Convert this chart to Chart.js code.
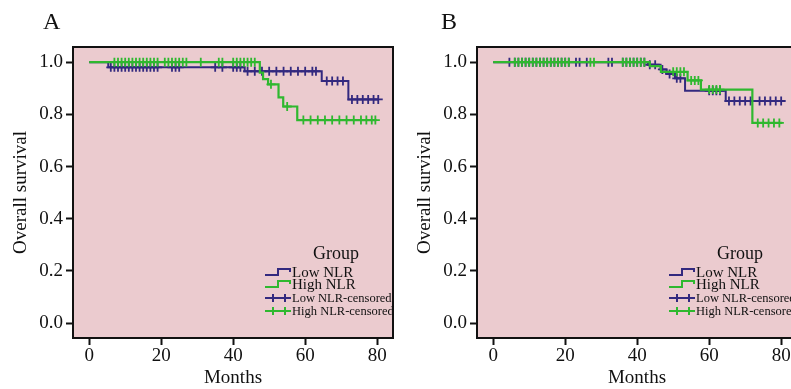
<!DOCTYPE html>
<html>
<head>
<meta charset="utf-8">
<script src="https://cdn.jsdelivr.net/npm/chart.js@4.4.1/dist/chart.umd.min.js"></script>
<style>
html, body { margin: 0; padding: 0; background: #fff; width: 791px; height: 389px; overflow: hidden; }
.panel { position: absolute; top: 0; width: 400px; height: 389px; }
</style>
</head>
<body>
<div class="panel" style="left:0px"><canvas id="chartA" width="400" height="389"></canvas></div>
<div class="panel" style="left:404px"><canvas id="chartB" width="400" height="389"></canvas></div>
<script>
// axis ticks and legend labels
var monthTicks = [0, 20, 40, 60, 80];
var survivalTicks = [0.0, 0.2, 0.4, 0.6, 0.8, 1.0];
var groupLabels = ["Low NLR", "High NLR", "Low NLR-censored", "High NLR-censored"];

// panel A - Kaplan-Meier steps (month of event, survival after it)
var lowA_months = [0, 5.3, 43.2, 64.6, 72, 80.5];
var lowA_surv = [1.0, 0.98, 0.965, 0.928, 0.857, 0.857];
var highA_months = [0, 47.4, 48.3, 49.7, 52.6, 53.9, 57.8, 79.8];
var highA_surv = [1.0, 0.96, 0.935, 0.915, 0.865, 0.83, 0.778, 0.778];
// censored times
var lowA_censored = [6, 7, 8, 9, 10, 11, 12, 13, 14, 15, 16, 17, 18, 19, 23, 24, 25, 35, 37, 40, 41, 42,
  44, 46, 48, 50, 52, 54, 56, 58, 60, 62, 63, 66, 67.5, 69, 70.5, 73, 74.5, 76, 77.5, 79, 80.3];
var highA_censored = [7, 8, 9, 10, 11, 12, 13, 14, 15, 16, 17, 18, 19, 21, 22, 23, 24, 25, 26, 27, 31,
  36, 37, 40, 41, 42, 43, 44, 45, 46, 50.5, 55, 59.5, 61.5, 63.5, 65.5, 67.5, 69.5, 71.5, 73.5, 75.5, 77, 78.5, 79.5];

// panel B
var lowB_months = [0, 43, 46.5, 48.2, 50.5, 53.3, 64.6, 80.8];
var lowB_surv = [1.0, 0.99, 0.972, 0.955, 0.938, 0.89, 0.851, 0.851];
var highB_months = [0, 43.5, 46.6, 54, 57.7, 72, 80.3];
var highB_surv = [1.0, 0.985, 0.963, 0.93, 0.895, 0.767, 0.767];
var lowB_censored = [4.5, 6, 7, 8, 9, 10, 11, 12, 13, 14, 15, 16, 17, 18, 19, 20, 21, 23, 24, 26, 32, 33,
  36, 37, 38, 39, 40, 41, 42, 43.5, 45, 47, 49, 51, 52, 60, 61, 62, 63, 65.5, 67, 68.5, 70, 71.5, 74, 75.5, 77, 78.5, 80];
var highB_censored = [6, 7, 8, 9, 10, 11, 12, 13, 14, 15, 16, 17, 18, 19, 20, 21, 27, 28, 36, 37, 38, 39,
  40, 41, 42, 50, 51, 52, 53, 55, 56, 57, 60, 61, 62, 63, 73.5, 75, 76.5, 78, 79.5];

var navy = "#33297f";
var green = "#2fb82f";
var plotPink = "#ebcbcf";
var serif = "'Liberation Serif', 'Times New Roman', serif";

function toPoints(months, surv) {
  return months.map(function (m, i) { return { x: m, y: surv[i] }; });
}
// censor mark sits on the curve at that month
function onCurve(times, months, surv) {
  return times.map(function (t) {
    var s = surv[0];
    for (var i = 0; i < months.length; i++) { if (months[i] <= t) s = surv[i]; }
    return { x: t, y: s };
  });
}

var kmPlugin = {
  id: "kmDecor",
  beforeDraw: function (chart) {
    var a = chart.chartArea, ctx = chart.ctx;
    ctx.save();
    ctx.fillStyle = plotPink;
    ctx.fillRect(a.left, a.top, a.right - a.left, a.bottom - a.top);
    ctx.restore();
  },
  afterDraw: function (chart) {
    var a = chart.chartArea, ctx = chart.ctx;
    var opts = chart.options.plugins.kmDecor;
    ctx.save();
    ctx.strokeStyle = "#111";
    ctx.lineWidth = 2;
    ctx.strokeRect(a.left, a.top, a.right - a.left, a.bottom - a.top);

    // panel letter
    ctx.fillStyle = "#111";
    ctx.font = "24px " + serif;
    ctx.textAlign = "left";
    ctx.textBaseline = "middle";
    ctx.fillText(opts.letter, opts.letterX, 23);

    // legend
    ctx.textAlign = "center";
    ctx.font = "18px " + serif;
    ctx.fillText("Group", a.right - 57, a.bottom - 84);
    var rows = [-66, -54, -40, -27];
    var sizes = [15, 15, 12.5, 12.5];
    chart.data.datasets.forEach(function (ds, i) {
      var y = a.bottom + rows[i];
      var x0 = a.right - 128;
      ctx.strokeStyle = ds.borderColor;
      ctx.lineWidth = 2;
      ctx.beginPath();
      if (i < 2) {
        ctx.moveTo(x0, y + 3); ctx.lineTo(x0 + 13, y + 3); ctx.lineTo(x0 + 13, y - 3);
        ctx.lineTo(x0 + 25, y - 3); ctx.lineTo(x0 + 25, y);
      } else {
        ctx.moveTo(x0, y); ctx.lineTo(x0 + 26, y);
        ctx.moveTo(x0 + 8, y - 4); ctx.lineTo(x0 + 8, y + 4);
        ctx.moveTo(x0 + 20, y - 4); ctx.lineTo(x0 + 20, y + 4);
      }
      ctx.stroke();
      ctx.fillStyle = "#111";
      ctx.textAlign = "left";
      ctx.font = sizes[i] + "px " + serif;
      ctx.fillText(ds.label, a.right - 101, y + 1);
    });
    ctx.restore();
  }
};

function makeChart(id, letter, letterX, lowM, lowS, highM, highS, lowC, highC) {
  return new Chart(document.getElementById(id).getContext("2d"), {
    type: "line",
    data: {
      datasets: [
        { label: groupLabels[0], data: toPoints(lowM, lowS), borderColor: navy, borderWidth: 2, stepped: "before", pointRadius: 0, order: 3 },
        { label: groupLabels[1], data: toPoints(highM, highS), borderColor: green, borderWidth: 2.2, stepped: "before", pointRadius: 0, order: 1 },
        { label: groupLabels[2], data: onCurve(lowC, lowM, lowS), borderColor: navy, showLine: false,
          pointStyle: "cross", pointRadius: 4.5, pointBorderWidth: 1.8, pointBorderColor: navy, order: 2 },
        { label: groupLabels[3], data: onCurve(highC, highM, highS), borderColor: green, showLine: false,
          pointStyle: "cross", pointRadius: 4.5, pointBorderWidth: 1.8, pointBorderColor: green, order: 0 }
      ]
    },
    options: {
      responsive: false,
      animation: false,
      layout: { padding: { top: 47, right: 7, bottom: 0, left: 0 } },
      scales: {
        x: {
          type: "linear",
          min: -4.5,
          max: 84.4,
          afterFit: function (s) { s.height = 51; },
          afterBuildTicks: function (s) { s.ticks = monthTicks.map(function (v) { return { value: v }; }); },
          grid: { drawOnChartArea: false, drawTicks: true, tickLength: 7, tickColor: "#111", tickWidth: 2 },
          border: { display: false },
          ticks: { padding: 0, color: "#111", font: { family: serif, size: 19 } },
          title: { display: true, text: "Months", color: "#111", padding: { top: 0, bottom: 0 }, font: { family: serif, size: 19 } }
        },
        y: {
          min: -0.057,
          max: 1.058,
          afterFit: function (s) { s.width = 73; },
          afterBuildTicks: function (s) { s.ticks = survivalTicks.map(function (v) { return { value: v }; }); },
          grid: { drawOnChartArea: false, drawTicks: true, tickLength: 7, tickColor: "#111", tickWidth: 2 },
          border: { display: false },
          ticks: { padding: 3, color: "#111", font: { family: serif, size: 19 },
            callback: function (v) { return Number(v).toFixed(1); } },
          title: { display: true, text: "Overall survival", color: "#111", padding: { top: 10, bottom: 0 }, font: { family: serif, size: 19 } }
        }
      },
      plugins: {
        legend: { display: false },
        tooltip: { enabled: false },
        kmDecor: { letter: letter, letterX: letterX }
      }
    },
    plugins: [kmPlugin]
  });
}

makeChart("chartA", "A", 43, lowA_months, lowA_surv, highA_months, highA_surv, lowA_censored, highA_censored);
makeChart("chartB", "B", 37, lowB_months, lowB_surv, highB_months, highB_surv, lowB_censored, highB_censored);
</script>
</body>
</html>
